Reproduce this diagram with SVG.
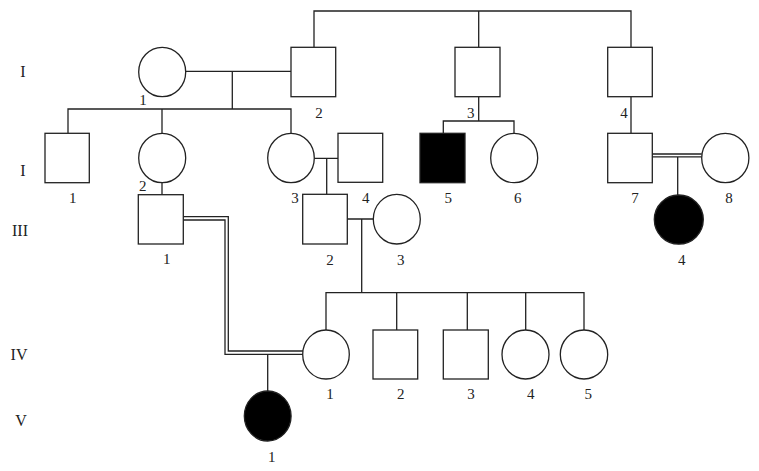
<svg xmlns="http://www.w3.org/2000/svg" width="759" height="471" viewBox="0 0 759 471">
<style>
.s{fill:#fff;stroke:#222;stroke-width:1.3}
.a{fill:#000;stroke:#222;stroke-width:1.3}
.l{fill:none;stroke:#222;stroke-width:1.3}
.t{font-family:"Liberation Serif","Times New Roman",serif;font-size:15px;fill:#222;text-anchor:middle}
.g{font-family:"Liberation Serif","Times New Roman",serif;font-size:16px;fill:#222;text-anchor:middle}
</style>
<rect width="759" height="471" fill="#fff"/>
<g id="generations">
<text class="g" x="23" y="76.5">I</text>
<text class="g" x="23" y="175.5">I</text>
<text class="g" x="20" y="235.5">III</text>
<text class="g" x="19" y="359.5">IV</text>
<text class="g" x="21" y="425.5">V</text>
</g>
<g id="connectors">
<path class="l" d="M314,47V11H631V47M478.7,11V47"/>
<path class="l" d="M185.7,71.3H291M232.3,71.3V109M68,133V109H291V133M162,109V133"/>
<path class="l" d="M478.7,97V121M443.3,133V121H514V133M631,97V133"/>
<path class="l" d="M652,154H701.7M652,156.8H701.7M677.7,156.8V195"/>
<path class="l" d="M314.3,158.3H338M326.7,158.3V194.3M162,183V194.7"/>
<path class="l" d="M347,219H373.3M361.7,219V292.7M326,330V292.7H584V330M396.7,292.7V330M467.3,292.7V330M525.7,292.7V330"/>
<path class="l" d="M183,216.7H228.3V351H303M183,220H225V354.3H303M267.7,354.3V391"/>
</g>
<g id="I-1"><ellipse class="s" cx="162.2" cy="72" rx="23.5" ry="24.7"/><text class="t" x="143" y="105">1</text></g>
<g id="I-2"><rect class="s" x="291" y="47.3" width="44.7" height="49.4"/><text class="t" x="319" y="117.7">2</text></g>
<g id="I-3"><rect class="s" x="455" y="47.3" width="45" height="49.4"/><text class="t" x="470.7" y="117.7">3</text></g>
<g id="I-4"><rect class="s" x="607.7" y="47.3" width="44.6" height="49.4"/><text class="t" x="624" y="117.7">4</text></g>
<g id="II-1"><rect class="s" x="45" y="133.3" width="44.3" height="49.4"/><text class="t" x="72.7" y="203">1</text></g>
<g id="II-2"><ellipse class="s" cx="162.2" cy="158" rx="23.5" ry="24.7"/><text class="t" x="142.7" y="191">2</text></g>
<g id="II-3"><ellipse class="s" cx="291" cy="158" rx="23.3" ry="24.7"/><text class="t" x="295" y="203">3</text></g>
<g id="II-4"><rect class="s" x="338" y="133.3" width="44.7" height="49"/><text class="t" x="365.7" y="203">4</text></g>
<g id="II-5"><rect class="a" x="420" y="133.3" width="45" height="49.4"/><text class="t" x="448.3" y="203">5</text></g>
<g id="II-6"><ellipse class="s" cx="514.2" cy="158" rx="23.5" ry="24.7"/><text class="t" x="517.7" y="203">6</text></g>
<g id="II-7"><rect class="s" x="607.7" y="133.3" width="44.6" height="49.4"/><text class="t" x="635" y="203">7</text></g>
<g id="II-8"><ellipse class="s" cx="725.3" cy="158" rx="23.6" ry="24.7"/><text class="t" x="729" y="203">8</text></g>
<g id="III-1"><rect class="s" x="138.3" y="194.7" width="45" height="49.3"/><text class="t" x="166.7" y="264.3">1</text></g>
<g id="III-2"><rect class="s" x="302.7" y="194.3" width="44.6" height="49.7"/><text class="t" x="330" y="265">2</text></g>
<g id="III-3"><ellipse class="s" cx="396.8" cy="219.2" rx="23.5" ry="24.8"/><text class="t" x="400.7" y="265">3</text></g>
<g id="III-4"><ellipse class="a" cx="678.8" cy="219.6" rx="24.5" ry="24.6"/><text class="t" x="681.7" y="265">4</text></g>
<g id="IV-1"><ellipse class="s" cx="326" cy="354.5" rx="23.3" ry="24.5"/><text class="t" x="330" y="399.3">1</text></g>
<g id="IV-2"><rect class="s" x="373" y="330" width="44.7" height="49"/><text class="t" x="400.7" y="399">2</text></g>
<g id="IV-3"><rect class="s" x="443.3" y="330" width="45" height="49"/><text class="t" x="471" y="399">3</text></g>
<g id="IV-4"><ellipse class="s" cx="525.5" cy="354.5" rx="23.5" ry="24.5"/><text class="t" x="530.7" y="399">4</text></g>
<g id="IV-5"><ellipse class="s" cx="584" cy="354.5" rx="23.7" ry="24.5"/><text class="t" x="588.3" y="399">5</text></g>
<g id="V-1"><ellipse class="a" cx="267.7" cy="416" rx="23.4" ry="25"/><text class="t" x="271.7" y="461.7">1</text></g>
</svg>
